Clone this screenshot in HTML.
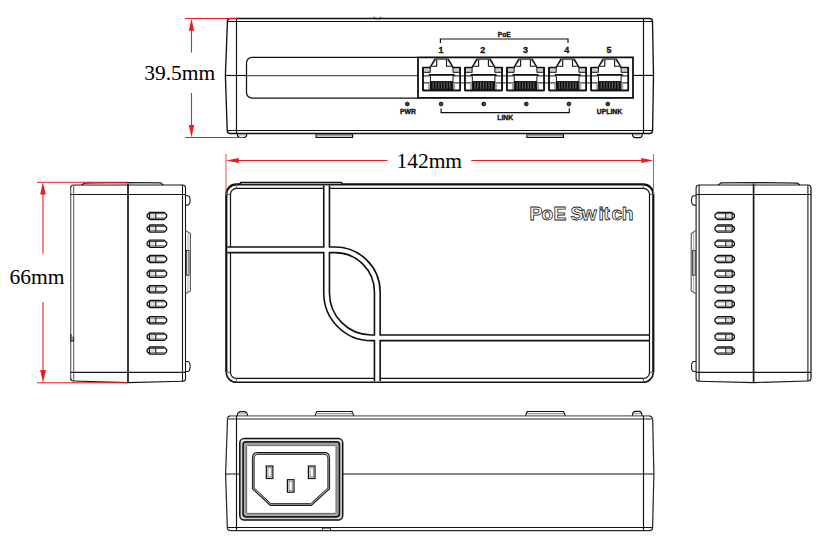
<!DOCTYPE html>
<html><head><meta charset="utf-8">
<style>
html,body{margin:0;padding:0;background:#fff;}
body{width:828px;height:550px;overflow:hidden;}
svg{display:block;}
.dim{font-family:"Liberation Serif",serif;font-size:21.5px;fill:#000;}
.lbl{font-family:"Liberation Sans",sans-serif;font-weight:bold;}
</style></head>
<body>
<svg width="828" height="550" viewBox="0 0 828 550">
<defs>
<g id="port" fill="none" stroke="#111" stroke-width="1.1">
<path d="M7,67.5 L11.8,59.4 H13.7 L8.4,66.2 V67.5 Z" fill="#8a8a8a" stroke="none"/>
<path d="M30.2,67.5 L25.4,59.4 H23.5 L28.8,66.2 V67.5 Z" fill="#8a8a8a" stroke="none"/>
<rect x="0" y="67.5" width="7.2" height="4.8" fill="#cfcfcf" stroke-width="1"/>
<rect x="30" y="67.5" width="7.2" height="4.8" fill="#cfcfcf" stroke-width="1"/>
<path d="M0,90.6 V67.5 H7 L11.8,59.3 H25.4 L30.2,67.5 H37.2 V90.6 Z" stroke-width="1.4" stroke-linejoin="round"/>
<path d="M12,59.6 H25.2" stroke="#777" stroke-width="1"/>
<path d="M13.7,59.8 V66.2 H8.4 M23.5,59.8 V66.2 H28.8" stroke-width="1.1"/>
<path d="M5.8,74.9 H31.6" stroke-width="1.8"/>
<path d="M5.8,74.9 L7.4,76.6 V81.6 M31.6,74.9 L30,76.6 V81.6" stroke-width="1"/>
<path d="M-0.5,75.9 H7.4 M30,75.9 H37.7 M-0.5,82.9 H7.4 M30,82.9 H37.7" stroke-width="1"/>
<rect x="5" y="83.2" width="2.6" height="6.6" fill="#aaa" stroke="none"/>
<rect x="29.6" y="83.2" width="2.6" height="6.6" fill="#aaa" stroke="none"/>
<rect x="7.5" y="81.6" width="22.2" height="7.8" fill="#5a5a5a" stroke="#111" stroke-width="1"/>
<path d="M8.80,81.8 V89.2 M11.58,81.8 V89.2 M14.36,81.8 V89.2 M17.14,81.8 V89.2 M19.92,81.8 V89.2 M22.70,81.8 V89.2 M25.48,81.8 V89.2 M28.26,81.8 V89.2" stroke="#0a0a0a" stroke-width="1.5"/>
<path d="M0,90.4 H37.2" stroke-width="1.7"/>
<path d="M0,67.5 V90.6 M37.2,67.5 V90.6" stroke-width="1.6"/>
</g>
<g id="slot" fill="none" stroke="#111" stroke-width="1.3">
    <path d="M-7,-3.6 H7 L9.7,-1.2 V1.2 L7,3.6 H-7 L-9.7,1.2 V-1.2 Z" stroke-linejoin="round"/>
    <path d="M-7.4,-2.6 V2.6" stroke-width="1.3"/>
    <path d="M-1.2,-2.6 V2.6" stroke-width="1.3"/>
    <path d="M-7.4,-2.2 H7.2 M-7.4,2.2 H7.2" stroke-width="0.9" stroke="#333"/>
    <rect x="-6.6" y="-1.6" width="5" height="3.2" fill="#ddd" stroke="none"/>
  </g>
<g id="sideL" fill="none" stroke="#161616" stroke-width="1.1">
<path d="M73.5,185 H182.6 Q185.5,185 185.5,188 V378.4 Q185.5,381.2 182.6,381.2 L128,382.6 L73.5,381 Q70.6,381 70.6,378 V188 Q70.6,185 73.5,185 Z"/>
<path d="M70.6,188 V378" stroke="#fff" stroke-width="1.3"/>
<path d="M70.6,188 V378" stroke="#666" stroke-width="1.1"/>
<path d="M73.7,185 V381" stroke="#666"/>
<path d="M182.5,185 V381.2"/>
<path d="M70.6,194.5 H185.5 M70.6,372.4 H185.5" stroke-width="1.2"/>
<path d="M128,182.6 V382.6" stroke-width="1.7"/>
<path d="M81.8,185 L84,183.2 L128,182.5 L160.5,182.8 L163.3,185" stroke="#1a1a1a" stroke-width="1.2"/>
<path d="M87,184.3 L128,183.7 L158,183.9" stroke="#999" stroke-width="0.9"/>
<path d="M185.5,195.8 H187.5 A2.6,4.65 0 0 1 187.5,205.1 H185.5"/>
<path d="M185.5,361.5 H187.5 A2.6,5 0 0 1 187.5,371.5 H185.5"/>
<path d="M185.5,230.4 L190.4,233.6 V291 L185.5,293.8" stroke="#555"/>
<path d="M188,233 V292" stroke="#999" stroke-width="0.8"/>
<rect x="186.4" y="250.5" width="2.6" height="24.7" stroke="#333" stroke-width="0.9"/>
<use href="#slot" x="156.9" y="215.9"/>
<use href="#slot" x="156.9" y="228.6"/>
<use href="#slot" x="156.9" y="243.7"/>
<use href="#slot" x="156.9" y="259"/>
<use href="#slot" x="156.9" y="273.7"/>
<use href="#slot" x="156.9" y="289.2"/>
<use href="#slot" x="156.9" y="304"/>
<use href="#slot" x="156.9" y="320.3"/>
<use href="#slot" x="156.9" y="336.8"/>
<use href="#slot" x="156.9" y="350.6"/>
</g>
<g id="sideR" fill="none" stroke="#161616" stroke-width="1.1">
<path d="M73.5,185 H182.6 Q185.5,185 185.5,188 V378.4 Q185.5,381.2 182.6,381.2 L128,382.6 L73.5,381 Q70.6,381 70.6,378 V188 Q70.6,185 73.5,185 Z"/>
<path d="M70.6,188 V378" stroke="#fff" stroke-width="1.3"/>
<path d="M70.6,188 V378" stroke="#1a1a1a" stroke-width="1.1"/>
<path d="M73.7,185 V381" stroke="#1a1a1a"/>
<path d="M182.5,185 V381.2"/>
<path d="M70.6,194.5 H185.5 M70.6,372.4 H185.5" stroke-width="1.2"/>
<path d="M128,182.6 V382.6" stroke-width="1.7"/>
<path d="M81.8,185 L84,183.2 L128,182.5 L160.5,182.8 L163.3,185" stroke="#1a1a1a" stroke-width="1.2"/>
<path d="M87,184.3 L128,183.7 L158,183.9" stroke="#999" stroke-width="0.9"/>
<path d="M185.5,195.8 H187.5 A2.6,4.65 0 0 1 187.5,205.1 H185.5"/>
<path d="M185.5,361.5 H187.5 A2.6,5 0 0 1 187.5,371.5 H185.5"/>
<path d="M185.5,230.4 L190.4,233.6 V291 L185.5,293.8" stroke="#555"/>
<path d="M188,233 V292" stroke="#999" stroke-width="0.8"/>
<rect x="186.4" y="250.5" width="2.6" height="24.7" stroke="#333" stroke-width="0.9"/>
<use href="#slot" x="156.9" y="215.9"/>
<use href="#slot" x="156.9" y="228.6"/>
<use href="#slot" x="156.9" y="243.7"/>
<use href="#slot" x="156.9" y="259"/>
<use href="#slot" x="156.9" y="273.7"/>
<use href="#slot" x="156.9" y="289.2"/>
<use href="#slot" x="156.9" y="304"/>
<use href="#slot" x="156.9" y="320.3"/>
<use href="#slot" x="156.9" y="336.8"/>
<use href="#slot" x="156.9" y="350.6"/>
</g>
</defs>

<!-- FRONT VIEW -->
<g fill="none" stroke="#111" stroke-width="1.15">
  <path d="M230.5,18.5 Q227.4,18.5 227.4,21.5 L225.4,75.5 L227.2,130.5 Q227.2,133.5 230.4,133.5 H649.6 Q652.6,133.5 652.6,130.5 L653.5,75.5 L652.5,21.5 Q652.5,18.5 649.5,18.5 Z" stroke-width="1.35"/>
  <path d="M227.4,21.5 H652.5"/>
  <path d="M227.2,130.5 H652.6"/>
  <path d="M236.5,18.5 V133.5 M643.5,18.5 V133.5"/>
  <path d="M225.4,75.5 H246.5"/>
  <path d="M246.5,75.7 H417.8" stroke="#555" stroke-width="1.3"/>
  <path d="M633,75.4 H653.5"/>
  <path d="M417.8,57.4 H252 A5.5,5.5 0 0 0 246.5,62.9 V92.6 A5.5,5.5 0 0 0 252,98.1 H417.8" stroke-width="1.25"/>
  <rect x="418" y="57.4" width="215" height="40.5" stroke-width="1.8"/>
  <path d="M373.5,18.5 L374.6,16.8 M381.5,18.5 L380.4,16.8" stroke-width="1"/>
  <path d="M374.6,19.6 H380.4" stroke="#999" stroke-width="1"/>
  <path d="M237.3,133.5 Q237.3,137.5 240.5,137.5 H244 Q246.8,137.5 246.8,133.5"/>
  <path d="M238.3,134.9 H246" stroke="#888" stroke-width="0.9"/>
  <path d="M316.1,133.5 V137.4 H352.6 V133.5"/>
  <path d="M317,134.9 H352" stroke="#444" stroke-width="1.2"/>
  <path d="M526.9,133.5 V137.4 H563.5 V133.5"/>
  <path d="M527.5,134.9 H563" stroke="#444" stroke-width="1.2"/>
  <path d="M632.4,133.5 Q632.4,137.6 635.5,137.6 H639.5 Q642.3,137.6 642.3,133.5"/>
  <path d="M633.4,134.9 H641.4" stroke="#888" stroke-width="0.9"/>
</g>
<use href="#port" x="423"/>
<use href="#port" x="464.9"/>
<use href="#port" x="506.9"/>
<use href="#port" x="549"/>
<use href="#port" x="591.1"/>
<path d="M460.2,75.9 H464.9 M460.2,82.9 H464.9 M502.09999999999997,75.9 H506.9 M502.09999999999997,82.9 H506.9 M544.1,75.9 H549 M544.1,82.9 H549 M586.2,75.9 H591.1 M586.2,82.9 H591.1" stroke="#111" stroke-width="0.9" fill="none"/>

<g fill="none" stroke="#111" stroke-width="1.1">
  <path d="M440.4,43 V39 H568 V43" stroke-width="1.2"/>
  <path d="M441.1,108.6 V112.6 H569.3 V108.6" stroke-width="1.2"/>
</g>
<g fill="#444" stroke="#111" stroke-width="0.9">
  <circle cx="407.3" cy="104" r="1.9"/>
  <circle cx="441.1" cy="104" r="1.9"/>
  <circle cx="483.7" cy="104" r="1.9"/>
  <circle cx="526.3" cy="104" r="1.9"/>
  <circle cx="568.9" cy="104" r="1.9"/>
  <circle cx="607.8" cy="104" r="1.9"/>
</g>
<g class="lbl" font-size="9" text-anchor="middle" fill="#111" stroke="#111" stroke-width="0.3">
  <text x="440.9" y="52.7">1</text>
  <text x="482.8" y="52.7">2</text>
  <text x="525.4" y="52.7">3</text>
  <text x="566.8" y="52.7">4</text>
  <text x="609.1" y="52.7">5</text>
</g>
<g class="lbl" font-size="6.8" text-anchor="middle" fill="#111" stroke="#111" stroke-width="0.35">
  <text x="408" y="113.8">PWR</text>
  <text x="505.2" y="120">LINK</text>
  <text x="609.5" y="113.8">UPLINK</text>
  <text x="504.2" y="36.7" font-size="6.5">PoE</text>
</g>

<!-- TOP VIEW -->
<g fill="none" stroke="#111">
  <path d="M226.3,372.3 V194.4 A10,10 0 0 1 236.3,184.4 H643.3 A10,10 0 0 1 653.3,194.4 V372.3" stroke-width="2.2"/>
  <path d="M226.3,372.3 A10,10 0 0 0 236.3,382.3 H643.3 A10,10 0 0 0 653.3,372.3" stroke-width="1.5"/>
  <rect x="230.5" y="188.4" width="419" height="190" rx="6" ry="6" stroke-width="1.2"/>
  <path d="M239.4,184.6 L240.5,182.4 H341.5 L342.6,184.6" stroke-width="1.2"/>
  <path d="M241.5,183.6 H341" stroke="#c8c8c8" stroke-width="0.8"/>
  <path d="M236.3,184.4 V188.4 M226.3,194.4 H230.5 M643.3,184.4 V188.4 M649.5,194.4 H653.3 M226.3,372.3 H230.5 M236.3,378.4 V382.3 M649.5,372.3 H653.3 M643.3,378.4 V382.3" stroke-width="1" stroke="#555"/>
  <g stroke="#111" stroke-width="7.3">
    <path d="M326.6,185.5 V293 A44.8,44.8 0 0 0 371.4,337.8 H649.5"/>
    <path d="M227.3,249.8 H335 A42.3,42.3 0 0 1 377.3,292 V381.3"/>
  </g>
  <g stroke="#fff" stroke-width="4.1">
    <path d="M326.6,185.6 V293 A44.8,44.8 0 0 0 371.4,337.8 H648.9"/>
    <path d="M227.4,249.8 H335 A42.3,42.3 0 0 1 377.3,292 V381.2"/>
  </g>
</g>
<text class="lbl" font-size="19.2" x="529.4 541.6 553.6 562 570.6 581.8 598.6 603.4 611.6 621.8" y="219.6" style="fill:#fff;stroke:#1a1a1a;stroke-width:0.8">PoE Switch</text>

<!-- SIDE VIEWS -->
<use href="#sideL"/>
<path d="M70.9,334 V341 H73.2 V336.5" fill="none" stroke="#111" stroke-width="1.1"/>
<use href="#sideR" transform="translate(881.6,0) scale(-1,1)"/>

<!-- BACK VIEW -->
<g fill="none" stroke="#111" stroke-width="1.15">
  <path d="M230.8,415.8 Q227.5,415.8 227.5,419 L225.6,474 L227.3,527.5 Q227.3,530.5 230.8,530.5 H649.6 Q652.6,530.5 652.6,527.5 L653.9,473.8 L652.7,420 Q652.7,415.8 648.5,415.8" stroke="#2a2a2a" stroke-width="1.25"/>
  <path d="M230.8,415.8 H648.5" stroke="#666" stroke-width="1.2"/>
  <path d="M227.5,418.9 H652.7" stroke="#6a6a6a" stroke-width="1.5"/>
  <path d="M227.3,527.5 H652.6"/>
  <path d="M236.5,415.8 V530.5 M643.5,415.8 V530.5"/>
  <path d="M225.6,474 H239.7 M342.7,474 H653.9"/>
  <path d="M237.3,415.8 Q237.3,411.6 241,411.6 H243.8 Q247.5,411.6 247.5,415.8"/>
  <path d="M238.5,413.8 H246.3" stroke="#aaa" stroke-width="1.2"/>
  <path d="M315.1,415.6 L316.8,411.5 H352 L353.7,415.6"/>
  <path d="M316.5,413.6 H352.4" stroke="#999" stroke-width="1.2"/>
  <path d="M525.5,415.6 L527.2,411.5 H563.6 L565.3,415.6"/>
  <path d="M527,413.6 H564" stroke="#999" stroke-width="1.2"/>
  <path d="M632.4,415.8 Q632.4,411.3 636,411.3 H639 Q642,411.3 642,415.8"/>
  <path d="M633.4,413.6 H641" stroke="#aaa" stroke-width="1.2"/>
  <path d="M322,530.4 L323,528 H330 L330.8,530.4" stroke-width="1"/>
  <!-- inlet frame -->
  <rect x="243.3" y="442" width="96" height="74.6" rx="3" stroke="#d0d0d0" stroke-width="6.4"/>
  <rect x="245.3" y="444" width="92" height="70.6" rx="2" stroke="#a0a0a0" stroke-width="2.2"/>
  <rect x="239.8" y="438.4" width="102.9" height="81.6" rx="4.5" stroke-width="1.5"/>
  <rect x="243.1" y="441.9" width="96.3" height="74.9" rx="3" stroke="#1a1a1a" stroke-width="1.7"/>
  <rect x="246.6" y="445.6" width="89.4" height="67.8" rx="1" stroke="#555" stroke-width="0.9"/>
  <path d="M241.3,440.3 H341.2" stroke="#fff" stroke-width="0.8"/>
  <!-- C14 -->
  <path d="M257.5,452.7 H324.4 Q329.5,452.7 329.5,457.8 V488.7 L311.3,505.3 H270.3 L252.5,488.7 V457.8 Q252.5,452.7 257.5,452.7 Z" stroke="#1a1a1a" stroke-width="1.2"/>
  <path d="M258,453.5 H323.9 Q328.7,453.5 328.7,458.3 V488.3 L311,504.5 H270.6 L253.3,488.3 V458.3 Q253.3,453.5 258,453.5 Z" stroke="#999" stroke-width="0.8"/>
  <path d="M258.5,454.3 H323.4 Q327.9,454.3 327.9,458.8 V487.9 L310.7,503.7 H270.9 L254.1,487.9 V458.8 Q254.1,454.3 258.5,454.3 Z" stroke="#1a1a1a" stroke-width="1"/>
  <g stroke-width="1.2">
    <rect x="266.3" y="466" width="6.6" height="12.5"/>
    <rect x="308.4" y="466" width="6.6" height="12.5"/>
    <rect x="287.4" y="479.7" width="6.6" height="12.5"/>
  </g>
  <g stroke="#8a8a8a" stroke-width="1">
    <rect x="267.9" y="467.6" width="3.4" height="9.3"/>
    <rect x="310" y="467.6" width="3.4" height="9.3"/>
    <rect x="289" y="481.3" width="3.4" height="9.3"/>
  </g>
</g>

<!-- DIMENSIONS -->
<g stroke="#ed1c24" fill="none" stroke-width="1.1">
  <path d="M185,18.5 H236.8"/>
  <path d="M185,137.5 H243"/>
  <path d="M191.5,30 V52.6 M191.5,93 V126"/>
  <path d="M226,154 V194.5" stroke-width="1" stroke="#f04a52"/>
  <path d="M653.5,154.3 V194.3" stroke-width="1" stroke="#f04a52"/>
  <path d="M238,160.5 H387.5 M471.2,160.5 H641.5"/>
  <path d="M37,182.3 H128 M37,382.8 H128"/>
  <path d="M43,194 V253.8 M43,302 V371"/>
</g>
<g fill="#ed1c24" stroke="none">
  <path d="M191.5,18.5 L194.2,30.8 L188.8,30.8 Z"/>
  <path d="M191.5,137.5 L194.2,125 L188.8,125 Z"/>
  <path d="M226,160.5 L238.8,157.9 L238.8,163.1 Z"/>
  <path d="M653.5,160.5 L641.2,157.9 L641.2,163.1 Z"/>
  <path d="M42.8,182.3 L45.8,194.5 L40.2,194.5 Z"/>
  <path d="M43,382.7 L46,370 L40.2,370 Z"/>
</g>
<text class="dim" x="144.2" y="80">39.5mm</text>
<text class="dim" x="396.4" y="168">142mm</text>
<text class="dim" x="9.6" y="283.8">66mm</text>
</svg>
</body></html>
